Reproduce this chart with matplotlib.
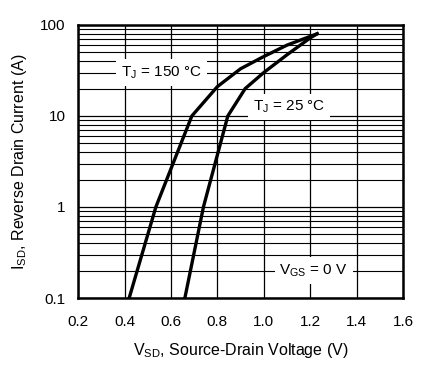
import matplotlib
matplotlib.use("Agg")
import matplotlib.pyplot as plt
from matplotlib.ticker import LogLocator, FixedLocator, NullFormatter

plt.rcParams['font.family'] = ['Liberation Sans', 'DejaVu Sans']

v150 = [0.42, 0.535, 0.69, 0.80, 0.90, 1.00, 1.10, 1.23]
i150 = [0.1, 1.0, 10.0, 21.0, 33.0, 45.0, 60.0, 80.0]
v25 = [0.66, 0.74, 0.845, 0.92, 1.00, 1.10, 1.20, 1.23]
i25 = [0.1, 1.0, 10.0, 20.0, 30.0, 47.0, 72.0, 80.0]
xticks = [0.2, 0.4, 0.6, 0.8, 1.0, 1.2, 1.4, 1.6]
xtick_labels = ["0.2", "0.4", "0.6", "0.8", "1.0", "1.2", "1.4", "1.6"]
yticks = [0.1, 1, 10, 100]
ytick_labels = ["0.1", "1", "10", "100"]

fig = plt.figure(figsize=(4.34, 3.67), dpi=100)
ax = fig.add_axes([0.18, 0.188, 0.7486, 0.744])
ax.set_yscale('log')
ax.set_xlim(0.2, 1.6)
ax.set_ylim(0.1, 100)
ax.set_xticks(xticks)
ax.set_xticklabels(xtick_labels)
ax.set_yticks(yticks)
ax.set_yticklabels(ytick_labels)
ax.yaxis.set_minor_locator(LogLocator(base=10, subs=range(2, 10)))
ax.yaxis.set_minor_formatter(NullFormatter())
ax.grid(True, which='major', color='black', linewidth=0.9)
ax.grid(True, which='minor', axis='y', color='black', linewidth=0.8)
ax.tick_params(which='both', length=0, labelsize=11)
ax.tick_params(axis='x', pad=12)
ax.tick_params(axis='y', pad=9)
for s in ax.spines.values():
    s.set_linewidth(1.8)

ax.plot(v150, i150, color='black', linewidth=2.4, zorder=3)
ax.plot(v25, i25, color='black', linewidth=2.4, zorder=3)

box = dict(facecolor='white', edgecolor='none', pad=3.5)
ax.text(0.56, 30, r"T$_\mathregular{J}$ = 150 °C", fontsize=11, ha='center', va='center', bbox=box, zorder=4)
ax.text(1.11, 12.6, r"T$_\mathregular{J}$ = 25 °C", fontsize=11, ha='center', va='center', bbox=box, zorder=4)
ax.text(1.215, 0.2, r"V$_\mathregular{GS}$ = 0 V", fontsize=11, ha='center', va='center', bbox=box, zorder=4)

ax.set_xlabel(r"V$_\mathregular{SD}$, Source-Drain Voltage (V)", fontsize=11.5, labelpad=9)
ax.set_ylabel(r"I$_\mathregular{SD}$, Reverse Drain Current (A)", fontsize=11.5, labelpad=8)

fig.savefig("out.png", dpi=100)
